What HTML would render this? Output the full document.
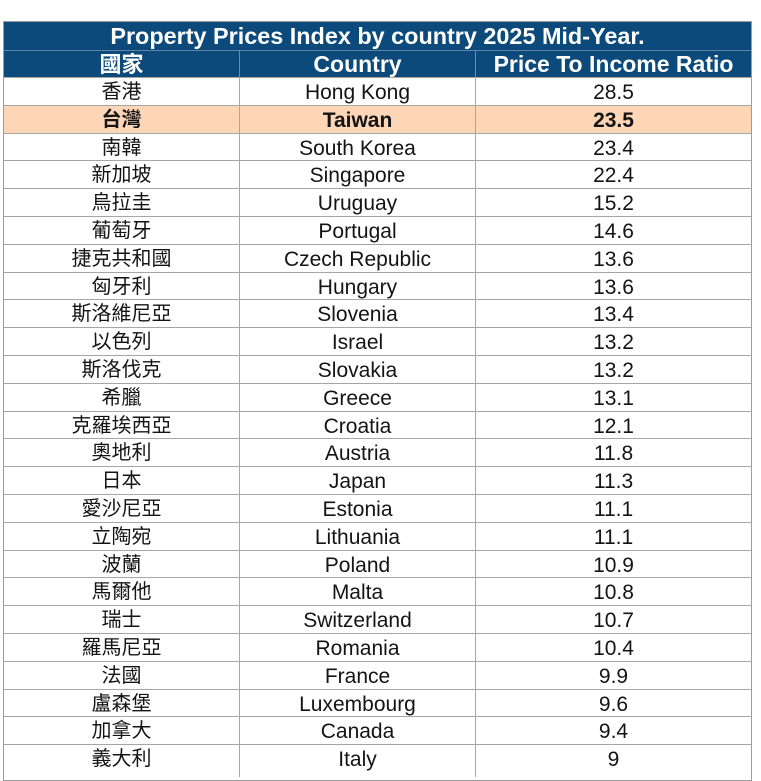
<!DOCTYPE html>
<html>
<head>
<meta charset="utf-8">
<style>
html,body{margin:0;padding:0;background:#fff;}
body{width:761px;height:772px;overflow:hidden;position:relative;font-family:"Liberation Sans","Noto Sans CJK TC",sans-serif;}
.frame{position:absolute;left:3px;top:21px;width:749px;height:760px;box-sizing:border-box;border:1px solid #9c9c9c;}
.blue{position:absolute;left:4px;width:747px;background:#0c4a7b;color:#fff;font-weight:bold;}
.title{top:22px;height:27.5px;}
.title span{position:absolute;left:0;right:0;top:1.4px;text-align:center;line-height:27.5px;font-size:23.4px;}
.head{top:49.5px;height:27.5px;border-top:1px solid #5f84a8;box-sizing:border-box;}
.hc{position:absolute;top:0.5px;line-height:27.5px;text-align:center;font-size:23px;}
.hc.cjk{font-size:22px;}
.vl{position:absolute;width:1px;background:#a6a6a6;top:77px;height:700px;}
.vlh{position:absolute;width:1px;background:#6b8db0;top:50px;height:27px;}
.r{position:absolute;left:4px;width:747px;height:27.8px;border-top:1px solid #a6a6a6;box-sizing:border-box;color:#141414;font-size:21px;}
.r.tw{background:#fdd6b8;font-weight:bold;}
.c{position:absolute;top:1px;line-height:27.8px;text-align:center;white-space:nowrap;}
.c1{left:0;width:235px;font-size:20px;}
.c2{left:236px;width:235px;}
.c3{left:472px;width:275px;}
</style>
</head>
<body>
<div class="blue title"><span>Property Prices Index by country 2025 Mid-Year.</span></div>
<div class="blue head">
  <div class="hc cjk" style="left:0;width:235px;">國家</div>
  <div class="hc" style="left:236px;width:235px;">Country</div>
  <div class="hc" style="left:472px;width:275px;">Price To Income Ratio</div>
</div>

<div class="r" style="top:77px"><div class="c c1">香港</div><div class="c c2">Hong Kong</div><div class="c c3">28.5</div></div>
<div class="r tw" style="top:104.8px"><div class="c c1">台灣</div><div class="c c2">Taiwan</div><div class="c c3">23.5</div></div>
<div class="r" style="top:132.6px"><div class="c c1">南韓</div><div class="c c2">South Korea</div><div class="c c3">23.4</div></div>
<div class="r" style="top:160.4px"><div class="c c1">新加坡</div><div class="c c2">Singapore</div><div class="c c3">22.4</div></div>
<div class="r" style="top:188.2px"><div class="c c1">烏拉圭</div><div class="c c2">Uruguay</div><div class="c c3">15.2</div></div>
<div class="r" style="top:216px"><div class="c c1">葡萄牙</div><div class="c c2">Portugal</div><div class="c c3">14.6</div></div>
<div class="r" style="top:243.8px"><div class="c c1">捷克共和國</div><div class="c c2">Czech Republic</div><div class="c c3">13.6</div></div>
<div class="r" style="top:271.6px"><div class="c c1">匈牙利</div><div class="c c2">Hungary</div><div class="c c3">13.6</div></div>
<div class="r" style="top:299.4px"><div class="c c1">斯洛維尼亞</div><div class="c c2">Slovenia</div><div class="c c3">13.4</div></div>
<div class="r" style="top:327.2px"><div class="c c1">以色列</div><div class="c c2">Israel</div><div class="c c3">13.2</div></div>
<div class="r" style="top:355px"><div class="c c1">斯洛伐克</div><div class="c c2">Slovakia</div><div class="c c3">13.2</div></div>
<div class="r" style="top:382.8px"><div class="c c1">希臘</div><div class="c c2">Greece</div><div class="c c3">13.1</div></div>
<div class="r" style="top:410.6px"><div class="c c1">克羅埃西亞</div><div class="c c2">Croatia</div><div class="c c3">12.1</div></div>
<div class="r" style="top:438.4px"><div class="c c1">奧地利</div><div class="c c2">Austria</div><div class="c c3">11.8</div></div>
<div class="r" style="top:466.2px"><div class="c c1">日本</div><div class="c c2">Japan</div><div class="c c3">11.3</div></div>
<div class="r" style="top:494px"><div class="c c1">愛沙尼亞</div><div class="c c2">Estonia</div><div class="c c3">11.1</div></div>
<div class="r" style="top:521.8px"><div class="c c1">立陶宛</div><div class="c c2">Lithuania</div><div class="c c3">11.1</div></div>
<div class="r" style="top:549.6px"><div class="c c1">波蘭</div><div class="c c2">Poland</div><div class="c c3">10.9</div></div>
<div class="r" style="top:577.4px"><div class="c c1">馬爾他</div><div class="c c2">Malta</div><div class="c c3">10.8</div></div>
<div class="r" style="top:605.2px"><div class="c c1">瑞士</div><div class="c c2">Switzerland</div><div class="c c3">10.7</div></div>
<div class="r" style="top:633px"><div class="c c1">羅馬尼亞</div><div class="c c2">Romania</div><div class="c c3">10.4</div></div>
<div class="r" style="top:660.8px"><div class="c c1">法國</div><div class="c c2">France</div><div class="c c3">9.9</div></div>
<div class="r" style="top:688.6px"><div class="c c1">盧森堡</div><div class="c c2">Luxembourg</div><div class="c c3">9.6</div></div>
<div class="r" style="top:716.4px"><div class="c c1">加拿大</div><div class="c c2">Canada</div><div class="c c3">9.4</div></div>
<div class="r" style="top:744.2px"><div class="c c1">義大利</div><div class="c c2">Italy</div><div class="c c3">9</div></div>

<div class="vl" style="left:239px"></div>
<div class="vl" style="left:475px"></div>
<div class="vlh" style="left:239px"></div>
<div class="vlh" style="left:475px"></div>
<div class="frame"></div>
</body>
</html>
